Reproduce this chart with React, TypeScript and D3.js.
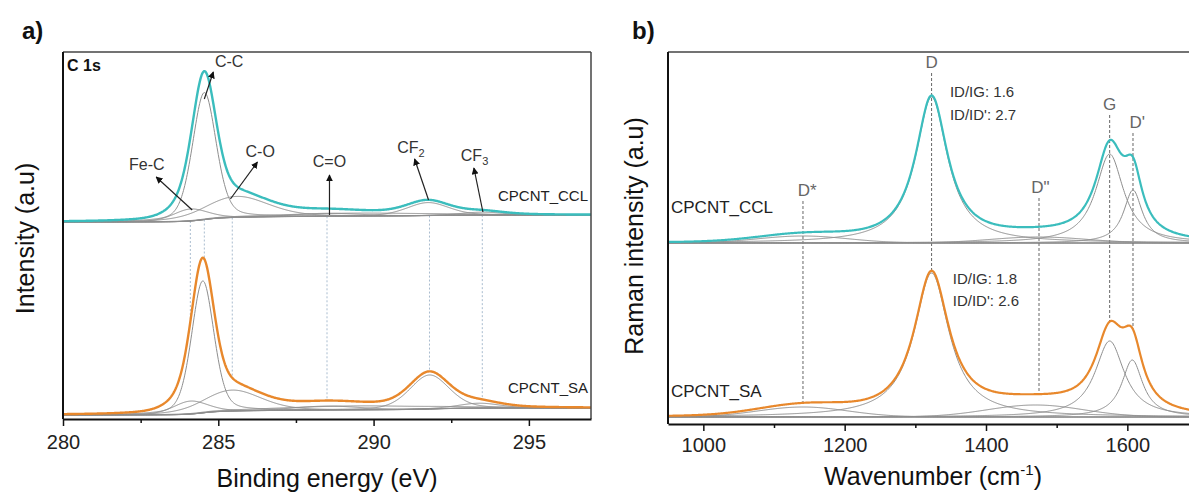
import React, { useEffect, useRef } from 'react';
import * as d3 from 'd3';

const WIDTH = 1189;
const HEIGHT = 492;
const FONT = 'Liberation Sans, Arial, Helvetica, sans-serif';
const TEAL = '#3bbdbd';
const ORANGE = '#e8882c';
const COMP = '#8e8e8e';

// ---- panel a: XPS C 1s fit (centre eV, height, fwhm) ----
const xpsNames = ['Fe-C', 'C-C', 'C-O', 'C=O', 'CF2', 'CF3', 'broad'];
const xpsCentersCCL = [284.1, 284.55, 285.6, 288.5, 291.75, 293.5, 289.5];
const xpsHeightsCCL = [12, 127, 21, 3, 13, 3, 3];
const xpsFwhmCCL = [1.3, 0.9, 2.4, 2.5, 1.6, 1.6, 6];
const xpsCentersSA = [284.1, 284.5, 285.45, 288.5, 291.8, 293.4, 289.5];
const xpsHeightsSA = [13, 132, 21, 4, 34, 5, 4];
const xpsFwhmSA = [1.3, 0.85, 2.2, 2.5, 1.5, 1.6, 6];
const xpsBaseCCL = [197, 204];
const xpsBaseSA = [4, 11];
const xpsTicks = [280, 285, 290, 295];
const xpsMinor = [282.5, 287.5, 292.5];
const xpsMarkers = [284.1, 284.55, 285.45, 288.5, 291.8, 293.5];

// annotation arrows: label, label pos, arrow tail, arrow head (eV, intensity)
const xpsAnnLabel = ['Fe-C', 'C-C', 'C-O', 'C=O', 'CF', 'CF'];
const xpsAnnSub = ['', '', '', '', '2', '3'];
const xpsAnnText = [[282.7, 249], [285.35, 352], [286.35, 262], [288.58, 252], [291.2, 266], [293.25, 258]];
const xpsAnnFrom = [[284.16, 209], [284.55, 320], [285.39, 220], [288.58, 204], [291.77, 219], [293.52, 207]];
const xpsAnnTo = [[283.0, 242], [284.84, 347], [286.26, 257], [288.58, 244], [291.32, 260], [293.23, 251]];

// ---- panel b: Raman fit (centre cm-1, height, fwhm, lorentz fraction) ----
const ramanNames = ['D*', 'D', 'D"', 'G', "D'"];
const ramanCentersCCL = [1141, 1323, 1475, 1575, 1608];
const ramanHeightsCCL = [7, 146, 6, 89, 53];
const ramanFwhmCCL = [150, 55, 160, 48, 32];
const ramanCentersSA = [1141, 1323, 1470, 1575, 1607];
const ramanHeightsSA = [10, 144, 12, 76, 57];
const ramanFwhmSA = [150, 60, 160, 50, 36];
const ramanEta = [0, 1, 0, 1, 1];
const ramanBaseCCL = 181;
const ramanBaseSA = 7;
const ramanTicks = [1000, 1200, 1400, 1600];
const ramanMinor = [1100, 1300, 1500, 1700];
const ramanMarkers = [1141, 1323, 1475, 1575, 1608];
const ramanLabelPos = [[1147, 228], [1323, 356], [1477, 231], [1575, 314], [1614, 296]];
const ratiosCCL = ['ID/IG: 1.6', "ID/ID': 2.7"];
const ratiosSA = ['ID/IG: 1.8', "ID/ID': 2.6"];

const XPS_ETA = 0.3;

const profile = (x: number, c: number, h: number, w: number, eta: number) => {
  const t = (x - c) / w;
  const g = Math.exp(-4 * Math.LN2 * t * t);
  const l = 1 / (1 + 4 * t * t);
  return h * (eta * l + (1 - eta) * g);
};

const XPS_STEP = 0.02;
const xpsGrid = d3.range(280, 297 + 1e-9, XPS_STEP);

const buildXps = (centers: number[], heights: number[], fwhm: number[], base: number[]) => {
  const comps = centers.map((c, i) => xpsGrid.map(x => profile(x, c, heights[i], fwhm[i], XPS_ETA)));
  const sum = xpsGrid.map((_, j) => d3.sum(comps, p => p[j]));
  const cum = Array.from(d3.cumsum(sum));
  const total = cum[cum.length - 1];
  const bg = xpsGrid.map((_, j) => base[0] + (base[1] - base[0]) * cum[j] / total);
  return {
    bg,
    comps: comps.map(p => p.map((v, j) => v + bg[j])),
    env: sum.map((v, j) => v + bg[j]),
  };
};

const ramanGrid = d3.range(950, 1700 + 1e-9, 1);

const buildRaman = (centers: number[], heights: number[], fwhm: number[], base: number) => {
  const comps = centers.map((c, i) => ramanGrid.map(x => profile(x, c, heights[i], fwhm[i], ramanEta[i])));
  const sum = ramanGrid.map((_, j) => d3.sum(comps, p => p[j]));
  return {
    bg: ramanGrid.map(() => base),
    comps: comps.map(p => p.map(v => v + base)),
    env: sum.map(v => v + base),
  };
};

const xpsCCL = buildXps(xpsCentersCCL, xpsHeightsCCL, xpsFwhmCCL, xpsBaseCCL);
const xpsSA = buildXps(xpsCentersSA, xpsHeightsSA, xpsFwhmSA, xpsBaseSA);
const ramCCL = buildRaman(ramanCentersCCL, ramanHeightsCCL, ramanFwhmCCL, ramanBaseCCL);
const ramSA = buildRaman(ramanCentersSA, ramanHeightsSA, ramanFwhmSA, ramanBaseSA);

const A = { left: 63, right: 591, top: 52, bottom: 419 };
const B = { left: 668, right: 1198, top: 52, bottom: 424 };

const xA = d3.scaleLinear().domain([280, 297]).range([A.left, A.right]);
const yA = d3.scaleLinear().domain([0, 367]).range([A.bottom, A.top]);
const xB = d3.scaleLinear().domain([950, 1700]).range([B.left, B.right]);
const yB = d3.scaleLinear().domain([0, 372]).range([B.bottom, B.top]);

const xpsAt = (arr: number[], x: number) => arr[Math.round((x - 280) / XPS_STEP)];
const ramAt = (arr: number[], x: number) => arr[Math.round(x - 950)];

const App = () => {
  const axA = useRef<SVGGElement>(null);
  const axAm = useRef<SVGGElement>(null);
  const axB = useRef<SVGGElement>(null);
  const axBm = useRef<SVGGElement>(null);

  useEffect(() => {
    const style = (g: any, size: number) => {
      g.select('.domain').attr('stroke', '#111').attr('stroke-width', 2);
      g.selectAll('.tick line').attr('stroke', '#111').attr('stroke-width', 1.5);
      g.selectAll('text').attr('font-size', size).attr('font-family', FONT).attr('fill', '#222');
    };
    const ga = d3.select(axA.current);
    ga.call(d3.axisBottom(xA).tickValues(xpsTicks).tickSize(7).tickSizeOuter(0).tickPadding(9).tickFormat(d3.format('d')) as any);
    style(ga, 20);
    const gam = d3.select(axAm.current);
    gam.call(d3.axisBottom(xA).tickValues(xpsMinor).tickSize(4).tickFormat(() => '') as any);
    gam.select('.domain').remove();
    gam.selectAll('.tick line').attr('stroke', '#111').attr('stroke-width', 1.5);

    const gb = d3.select(axB.current);
    gb.call(d3.axisBottom(xB).tickValues(ramanTicks).tickSize(7).tickSizeOuter(0).tickPadding(7).tickFormat(d3.format('d')) as any);
    style(gb, 20);
    const gbm = d3.select(axBm.current);
    gbm.call(d3.axisBottom(xB).tickValues(ramanMinor).tickSize(4).tickFormat(() => '') as any);
    gbm.select('.domain').remove();
    gbm.selectAll('.tick line').attr('stroke', '#111').attr('stroke-width', 1.5);
  }, []);

  const lineA = d3.line<number>().x((_, j) => xA(xpsGrid[j])).y(v => yA(v));
  const lineB = d3.line<number>().x((_, j) => xB(ramanGrid[j])).y(v => yB(v));

  const xpsSpectrum = (s: typeof xpsCCL, color: string, key: string) => (
    <g key={key}>
      <path d={lineA(s.bg) || ''} fill="none" stroke="#666" strokeWidth={1} />
      {s.comps.map((c, i) => (
        <path key={i} d={lineA(c) || ''} fill="none" stroke={COMP} strokeWidth={1} />
      ))}
      <path d={lineA(s.env) || ''} fill="none" stroke={color} strokeWidth={2.4} />
    </g>
  );

  const ramSpectrum = (s: typeof ramCCL, color: string, key: string) => (
    <g key={key}>
      <path d={lineB(s.bg) || ''} fill="none" stroke="#555" strokeWidth={1.2} />
      {s.comps.map((c, i) => (
        <path key={i} d={lineB(c) || ''} fill="none" stroke={COMP} strokeWidth={1} />
      ))}
      <path d={lineB(s.env) || ''} fill="none" stroke={color} strokeWidth={2.2} />
    </g>
  );

  return (
    <svg width={WIDTH} height={HEIGHT} style={{ position: 'absolute', left: 0, top: 0, background: '#fff' }}
      fontFamily={FONT}>
      <defs>
        <marker id="arr" viewBox="0 0 10 10" refX="9" refY="5" markerWidth="7" markerHeight="7"
          orient="auto" markerUnits="userSpaceOnUse">
          <path d="M0,0 L10,5 L0,10 z" fill="#111" />
        </marker>
        <clipPath id="clipB">
          <rect x={B.left} y={B.top} width={B.right - B.left} height={B.bottom - B.top} />
        </clipPath>
        <clipPath id="clipA">
          <rect x={A.left} y={A.top} width={A.right - A.left} height={A.bottom - A.top} />
        </clipPath>
      </defs>

      {/* ---------------- panel a ---------------- */}
      <text x={22} y={39} fontSize={24} fontWeight="bold" fill="#111">a)</text>
      <g clipPath="url(#clipA)">
        {xpsMarkers.map((m, i) => (
          <line key={i} x1={xA(m)} x2={xA(m)} y1={yA(xpsAt(xpsCCL.bg, m))} y2={yA(xpsAt(xpsSA.env, m))}
            stroke="#a9bccf" strokeWidth={1} strokeDasharray="2,2" />
        ))}
        {xpsSpectrum(xpsCCL, TEAL, 'ccl')}
        {xpsSpectrum(xpsSA, ORANGE, 'sa')}
      </g>
      {xpsAnnLabel.map((t, i) => (
        <g key={i}>
          <line x1={xA(xpsAnnFrom[i][0])} y1={yA(xpsAnnFrom[i][1])} x2={xA(xpsAnnTo[i][0])} y2={yA(xpsAnnTo[i][1])}
            stroke="#222" strokeWidth={1.2} markerEnd="url(#arr)" />
          <text x={xA(xpsAnnText[i][0])} y={yA(xpsAnnText[i][1])} fontSize={16} fill="#333" textAnchor="middle">
            {t}
            {xpsAnnSub[i] && <tspan fontSize={11} dy={4}>{xpsAnnSub[i]}</tspan>}
          </text>
        </g>
      ))}
      <text x={A.left + 4} y={A.top + 19} fontSize={16} fontWeight="bold" fill="#111">C 1s</text>
      <text x={A.right - 3} y={201} fontSize={15} fill="#222" textAnchor="end">CPCNT_CCL</text>
      <text x={A.right - 3} y={393} fontSize={15} fill="#222" textAnchor="end">CPCNT_SA</text>
      <line x1={A.left} x2={A.right} y1={A.top} y2={A.top} stroke="#444" strokeWidth={1.5} />
      <line x1={A.right} x2={A.right} y1={A.top} y2={A.bottom} stroke="#444" strokeWidth={1.5} />
      <line x1={A.left} x2={A.left} y1={A.top} y2={A.bottom} stroke="#111" strokeWidth={2} />
      <g ref={axA} transform={`translate(0,${A.bottom})`} />
      <g ref={axAm} transform={`translate(0,${A.bottom})`} />
      <text x={(A.left + A.right) / 2} y={487} fontSize={25} fill="#111" textAnchor="middle">Binding energy (eV)</text>
      <text transform={`translate(34,${(A.top + A.bottom) / 2 + 3}) rotate(-90)`} fontSize={25} fill="#111"
        textAnchor="middle">Intensity (a.u)</text>

      {/* ---------------- panel b ---------------- */}
      <text x={632} y={39} fontSize={24} fontWeight="bold" fill="#111">b)</text>
      <g clipPath="url(#clipB)">
        {ramanMarkers.map((m, i) => (
          <line key={i} x1={xB(m)} x2={xB(m)} y1={yB(ramanLabelPos[i][1]) + 5} y2={yB(ramAt(ramSA.env, m))}
            stroke="#666" strokeWidth={1} strokeDasharray="3,2" />
        ))}
        {ramSpectrum(ramCCL, TEAL, 'ccl')}
        {ramSpectrum(ramSA, ORANGE, 'sa')}
      </g>
      {ramanNames.map((n, i) => (
        <text key={i} x={xB(ramanLabelPos[i][0])} y={yB(ramanLabelPos[i][1])} fontSize={17} fill="#666"
          textAnchor="middle">{n}</text>
      ))}
      {ratiosCCL.map((t, i) => (
        <text key={i} x={xB(1349)} y={yB(327 - i * 23)} fontSize={15} fill="#333">{t}</text>
      ))}
      {ratiosSA.map((t, i) => (
        <text key={i} x={xB(1353)} y={yB(140 - i * 22)} fontSize={15} fill="#333">{t}</text>
      ))}
      <text x={B.left + 3} y={213} fontSize={17} fill="#222">CPCNT_CCL</text>
      <text x={B.left + 3} y={397} fontSize={17} fill="#222">CPCNT_SA</text>
      <line x1={B.left} x2={WIDTH} y1={B.top} y2={B.top} stroke="#444" strokeWidth={1.5} />
      <line x1={B.left} x2={B.left} y1={B.top} y2={B.bottom} stroke="#111" strokeWidth={2} />
      <g ref={axB} transform={`translate(0,${B.bottom})`} />
      <g ref={axBm} transform={`translate(0,${B.bottom})`} />
      <text x={933} y={485} fontSize={25} fill="#111" textAnchor="middle">
        Wavenumber (cm<tspan fontSize={15} dy={-10}>-1</tspan><tspan dy={10}>)</tspan>
      </text>
      <text transform={`translate(643,236) rotate(-90)`} fontSize={25} fill="#111" textAnchor="middle">
        Raman intensity (a.u)
      </text>
    </svg>
  );
};

export default App;
